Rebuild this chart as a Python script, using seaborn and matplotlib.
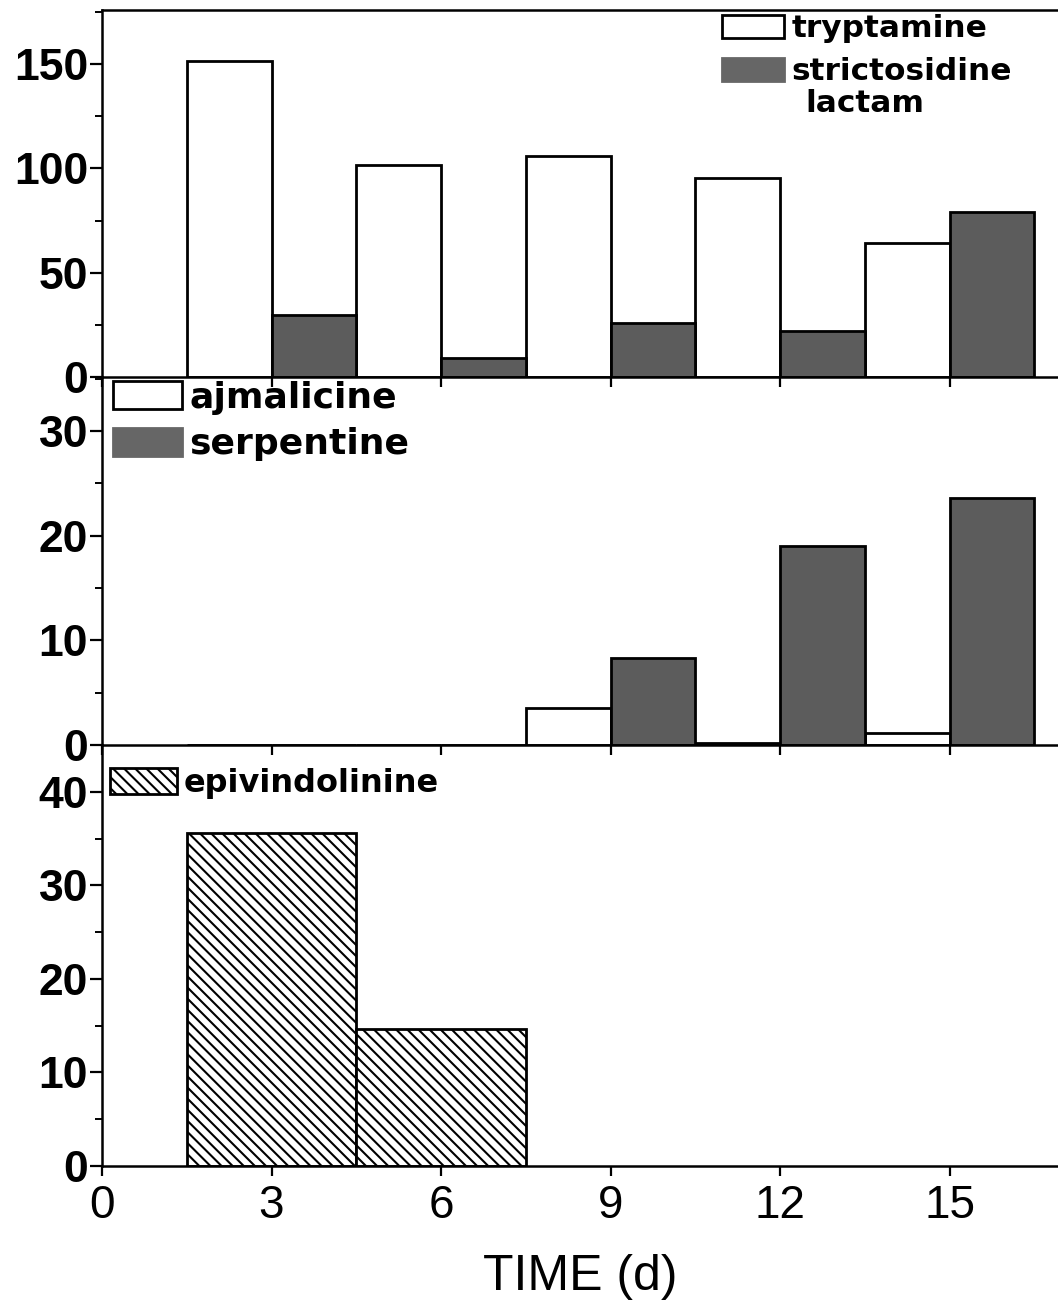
import numpy as np
import pandas as pd
import matplotlib
matplotlib.use("Agg")
import matplotlib.pyplot as plt
from matplotlib.patches import Patch
from matplotlib.ticker import MultipleLocator
import seaborn as sns

# Sampling days
days = [3, 6, 9, 12, 15]

# Panel 1: precursors
tryptamine = [151.5, 101.5, 106, 95.5, 64.5]
strictosidine_lactam = [29.6, 9, 25.8, 21.9, 79.1]

# Panel 2: heteroyohimbine / beta-carboline alkaloids
ajmalicine = [0, 0, 3.5, 0.15, 1.1]
serpentine = [0, 0, 8.3, 19.0, 23.6]

# Panel 3: epivindolinine (only detected early)
epi_days = [3, 6]
epivindolinine = [35.6, 14.6]

y_ticks_top = [0, 50, 100, 150]
y_ticks_mid = [0, 10, 20, 30]
y_ticks_bot = [0, 10, 20, 30, 40]
x_ticks = [0, 3, 6, 9, 12, 15]

GRAY = "#5c5c5c"
LEG_GRAY = "#666666"
EDGE = "black"
LW = 2.0
HATCH = "\\\\\\"

sns.set_theme(style="white")
plt.rcParams["font.family"] = ["Liberation Sans", "DejaVu Sans"]
plt.rcParams["hatch.linewidth"] = 1.5
plt.rcParams["text.color"] = "black"
plt.rcParams["axes.labelcolor"] = "black"
plt.rcParams["xtick.color"] = "black"
plt.rcParams["ytick.color"] = "black"

W, H = 1058, 1303
fig = plt.figure(figsize=(W / 100, H / 100), dpi=100)

def frac_y(px):
    return 1 - px / H

x_left = 102 / W
panels_px = [(10, 377), (377, 745), (745, 1166)]
axes = []
for top, bot in panels_px:
    ax = fig.add_axes([x_left, frac_y(bot), 1 - x_left, (bot - top) / H])
    axes.append(ax)
ax1, ax2, ax3 = axes

df_top = pd.DataFrame({
    "day": days * 2,
    "value": tryptamine + strictosidine_lactam,
    "compound": ["tryptamine"] * 5 + ["strictosidine lactam"] * 5,
})
df_mid = pd.DataFrame({
    "day": days * 2,
    "value": ajmalicine + serpentine,
    "compound": ["ajmalicine"] * 5 + ["serpentine"] * 5,
})
df_bot = pd.DataFrame({
    "day": epi_days,
    "value": epivindolinine,
    "compound": ["epivindolinine"] * 2,
})

sns.barplot(data=df_top, x="day", y="value", hue="compound", native_scale=True,
            width=1.0, palette={"tryptamine": "white", "strictosidine lactam": GRAY},
            saturation=1, edgecolor=EDGE, linewidth=LW, errorbar=None,
            legend=False, ax=ax1)
sns.barplot(data=df_mid, x="day", y="value", hue="compound", native_scale=True,
            width=1.0, palette={"ajmalicine": "white", "serpentine": GRAY},
            saturation=1, edgecolor=EDGE, linewidth=LW, errorbar=None,
            legend=False, ax=ax2)
sns.barplot(data=df_bot, x="day", y="value", native_scale=True, width=1.0,
            color="white", saturation=1, edgecolor=EDGE, linewidth=LW,
            hatch=HATCH, errorbar=None, ax=ax3)

ylims = [(0, 176), (0, 35.15), (0, 45.0)]
yticks = [y_ticks_top, y_ticks_mid, y_ticks_bot]
minors = [25, 5, 5]
for ax, yl, yt, mn in zip(axes, ylims, yticks, minors):
    ax.set_xlim(0, (W - 102) / 56.5)
    ax.set_ylim(*yl)
    ax.set_yticks(yt)
    ax.yaxis.set_minor_locator(MultipleLocator(mn))
    ax.set_xticks(x_ticks)
    ax.set_xlabel("")
    ax.set_ylabel("")
    for s in ["left", "bottom", "top"]:
        ax.spines[s].set_visible(True)
        ax.spines[s].set_color("black")
        ax.spines[s].set_linewidth(1.8)
    ax.spines["right"].set_visible(False)
    ax.tick_params(axis="y", which="major", direction="out", length=9, width=1.6,
                   left=True, labelsize=32, pad=1)
    ax.tick_params(axis="y", which="minor", direction="out", length=5, width=1.4,
                   left=True)
    ax.tick_params(axis="x", which="major", direction="out", length=7, width=1.6,
                   bottom=True, top=False, labelsize=33, pad=6)
    ax.patch.set_alpha(0)
    for lab in ax.get_yticklabels():
        lab.set_fontweight("bold")

# Only the x axis of the bottom panel carries labels
ax1.tick_params(axis="x", labelbottom=False)
ax2.tick_params(axis="x", labelbottom=False)
ax2.spines["top"].set_visible(False)
ax3.spines["top"].set_visible(False)
ax3.set_xlabel("TIME (d)", fontsize=36, labelpad=19)

leg_font = ["DejaVu Sans"]

# Legends
h_top = [Patch(facecolor="white", edgecolor=EDGE, linewidth=LW),
         Patch(facecolor=LEG_GRAY, edgecolor=LEG_GRAY, linewidth=LW)]
ax1.legend(h_top, ["tryptamine", "strictosidine"],
           loc="upper left", bbox_to_anchor=(0.6485, 0.988),
           frameon=False, borderpad=0, borderaxespad=0,
           handlelength=1.97, handleheight=0.75, handletextpad=0.25,
           labelspacing=0.45,
           prop={"size": 22.5, "weight": "bold", "family": leg_font})
ax1.text((805 - 102) / (W - 102), 1 - (103 - 10) / 367, "lactam",
         transform=ax1.transAxes, ha="left", va="center",
         fontsize=22.5, fontweight="bold", family=leg_font)

h_mid = [Patch(facecolor="white", edgecolor=EDGE, linewidth=LW),
         Patch(facecolor=LEG_GRAY, edgecolor=LEG_GRAY, linewidth=LW)]
ax2.legend(h_mid, ["ajmalicine", "serpentine"], loc="upper left",
           bbox_to_anchor=(0.0115, 0.99), frameon=False, borderpad=0,
           borderaxespad=0, handlelength=1.9, handleheight=0.8,
           handletextpad=0.22, labelspacing=0.35,
           prop={"size": 26, "weight": "bold", "family": leg_font})

h_bot = [Patch(facecolor="white", edgecolor=EDGE, linewidth=LW, hatch=HATCH)]
ax3.legend(h_bot, ["epivindolinine"], loc="upper left",
           bbox_to_anchor=(0.008, 0.945), frameon=False, borderpad=0,
           borderaxespad=0, handlelength=2.1, handleheight=0.85,
           handletextpad=0.22,
           prop={"size": 23, "weight": "bold", "family": leg_font})

fig.savefig("out.png", dpi=100, facecolor="white")
